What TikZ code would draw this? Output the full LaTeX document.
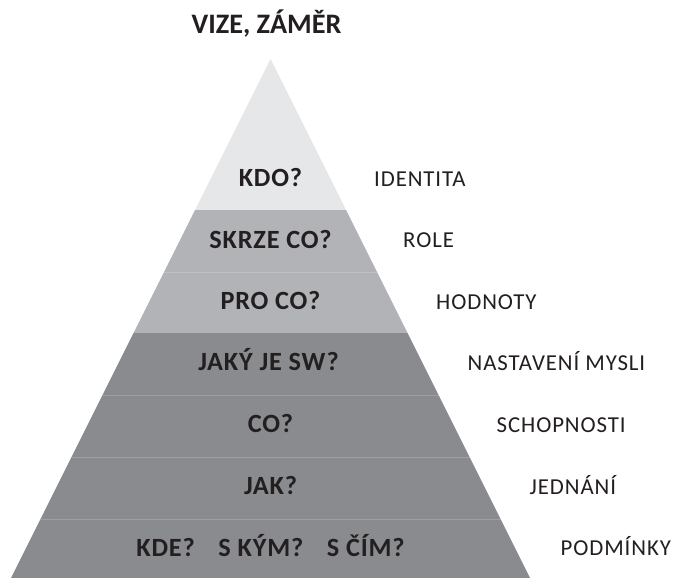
\documentclass[tikz,border=0pt]{standalone}
\usepackage{fontspec}
\setmainfont{Carlito}
\newfontfamily\labfont[LetterSpace=4]{Carlito}
\newfontfamily\qfont[LetterSpace=3]{Carlito}
\definecolor{toptone}{HTML}{E6E7E8}
\definecolor{midtone}{HTML}{B1B3B6}
\definecolor{lowtone}{HTML}{8A8B8E}
\definecolor{darktext}{HTML}{231F20}
\newcommand\pyrband[3]{%
  \fill[#3] ({270.5-0.5*(#1-59)},#1) -- ({270.5+0.5*(#1-59)},#1) --
    ({270.5+0.5*(#2-59)},#2) -- ({270.5-0.5*(#2-59)},#2) -- cycle;}
\newcommand\pyrsep[2]{%
  \draw[#2] ({270.5-0.5*(#1-59)},#1) -- ({270.5+0.5*(#1-59)},#1);}
\begin{document}
\begin{tikzpicture}[x=1pt,y=-1pt,
  qtext/.style={font=\qfont\bfseries\fontsize{26.3}{26.3}\selectfont, text=darktext, anchor=base, inner sep=0pt},
  title/.style={font=\bfseries\fontsize{28.2}{28.2}\selectfont, text=darktext, anchor=base, inner sep=0pt},
  lab/.style={font=\labfont\fontsize{22.8}{22.8}\selectfont, text=darktext, anchor=base west, inner sep=0pt},
  seplight/.style={draw=white, draw opacity=0.18, line width=1pt}]
\useasboundingbox (0,0) rectangle (673,578);
\fill[white] (0,0) rectangle (673,578);
\pyrband{59}{210}{toptone}
\pyrband{210}{333}{midtone}
\pyrband{333}{578}{lowtone}
\pyrsep{272}{seplight}
\pyrsep{395}{seplight}
\pyrsep{457}{seplight}
\pyrsep{519}{seplight}

\node[title] (vize) at (266.5,34) {VIZE, ZÁMĚR};

\node[qtext] (kdo) at (270.5,186) {KDO?};
\node[qtext] (skrze) at (270.5,248) {SKRZE CO?};
\node[qtext] (pro) at (270.5,309.5) {PRO CO?};
\node[qtext] (jaky) at (268.5,370.5) {JAKÝ JE SW?};
\node[qtext] (co) at (270.5,432) {CO?};
\node[qtext] (jak) at (270.5,494) {JAK?};
\node[qtext] (kde) at (270.5,556) {KDE?\hspace{0.9em}S KÝM?\hspace{0.9em}S ČÍM?};

\node[lab] (identita) at (374,186) {IDENTITA};
\node[lab] (role) at (403,247.5) {ROLE};
\node[lab] (hodnoty) at (436,309) {HODNOTY};
\node[lab] (nastaveni) at (467.5,370.5) {NASTAVENÍ MYSLI};
\node[lab] (schopnosti) at (496.5,432.5) {SCHOPNOSTI};
\node[lab] (jednani) at (529.5,494) {JEDNÁNÍ};
\node[lab] (podminky) at (560.5,555.5) {PODMÍNKY};
\end{tikzpicture}
\end{document}
